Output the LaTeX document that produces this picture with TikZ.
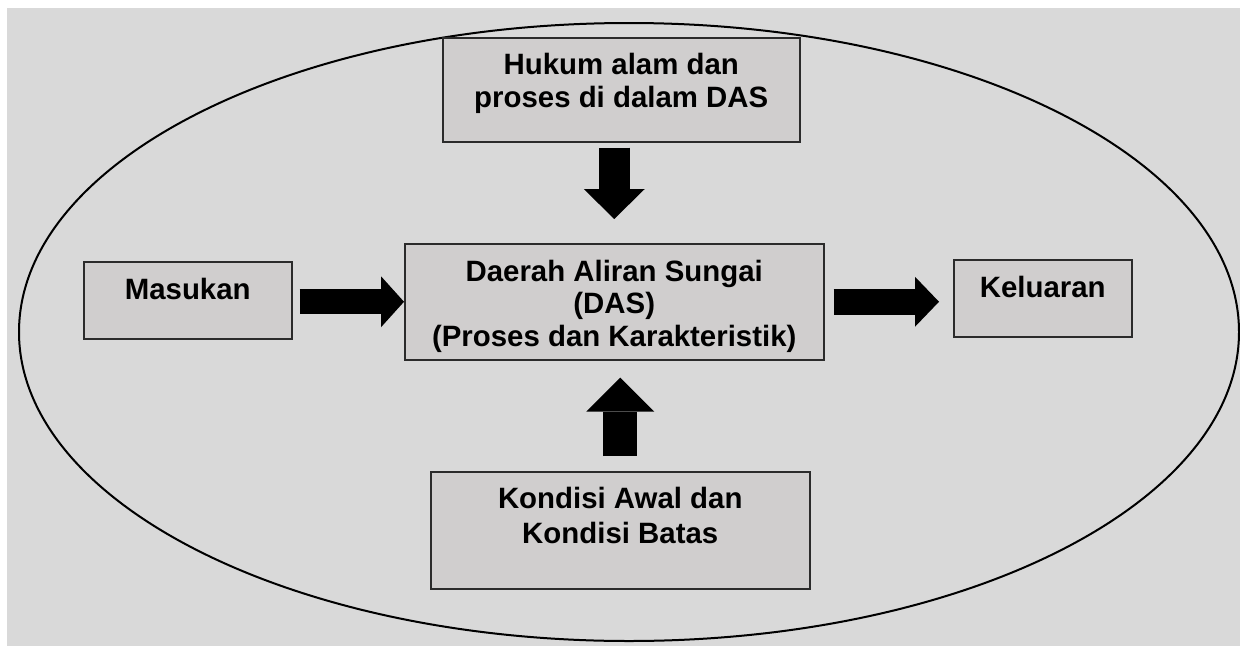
\documentclass[tikz,border=0pt]{standalone}
\usepackage{fontspec}
\setmainfont{Liberation Sans}
\usetikzlibrary{arrows.meta}
\definecolor{pagebg}{HTML}{D9D9D9}
\definecolor{boxfill}{HTML}{D0CECE}
\definecolor{boxline}{HTML}{2B2B2B}
\tikzset{
  box/.style={draw=boxline, line width=1.5pt, fill=boxfill, inner sep=0pt, anchor=north west},
  lbl/.style={font=\bfseries\fontsize{29.4}{33}\selectfont, align=center, anchor=base, inner sep=0pt},
  blockarrow/.style n args={3}{line width=#1, draw=black,
    -{Triangle[width=#2, length=#3, line width=0pt]}},
}
\begin{document}
\begin{tikzpicture}[x=1pt, y=-1pt]
  \useasboundingbox (0,0) rectangle (1240,646);
  \fill[white] (0,0) rectangle (1240,646);
  \fill[pagebg] (7,8) rectangle (1240,646);

  % watershed boundary
  \draw[line width=2pt] (629,332) ellipse [x radius=610, y radius=309];

  % boxes
  \node[box, minimum width=357pt, minimum height=104pt] (hukum) at (442,37) {};
  \node[box, minimum width=208pt, minimum height=77pt] (masukan) at (83,261) {};
  \node[box, minimum width=419pt, minimum height=116pt] (das) at (404,243) {};
  \node[box, minimum width=178pt, minimum height=77pt] (keluaran) at (953,259) {};
  \node[box, minimum width=379pt, minimum height=117pt] (kondisi) at (430,471) {};

  % labels (anchored at the baseline of their last line)
  \node[lbl] (hukumtxt) at ([yshift=-70pt]hukum.north) {Hukum alam dan\\proses di dalam DAS};
  \node[lbl] (masukantxt) at ([yshift=-38pt]masukan.north) {Masukan};
  \node[lbl, font=\bfseries\fontsize{29.4}{32.5}\selectfont] (dastxt) at ([yshift=-103pt]das.north)
    {Daerah Aliran Sungai\\(DAS)\\(Proses dan Karakteristik)};
  \node[lbl] (keluarantxt) at ([yshift=-38pt]keluaran.north) {Keluaran};
  \node[lbl, font=\bfseries\fontsize{29.4}{34.5}\selectfont] (kondisitxt) at ([yshift=-72pt]kondisi.north)
    {Kondisi Awal dan\\Kondisi Batas};

  % block arrows
  \draw[blockarrow={25pt}{51pt}{23pt}] ([xshift=7pt]das.west -| masukan.east) -- (das.west);
  \draw[blockarrow={26pt}{50pt}{24pt}] ([xshift=9pt]das.east) -- ([xshift=-14pt]das.east -| keluaran.west);
  \draw[blockarrow={31pt}{61pt}{30pt}] ([yshift=-5pt]hukum.south -| das.north) -- ([yshift=24pt]das.north);
  \draw[blockarrow={34pt}{68pt}{34pt}] ([yshift=15pt]kondisi.north) -- ([yshift=-17pt]das.south -| kondisi.north);
\end{tikzpicture}
\end{document}
